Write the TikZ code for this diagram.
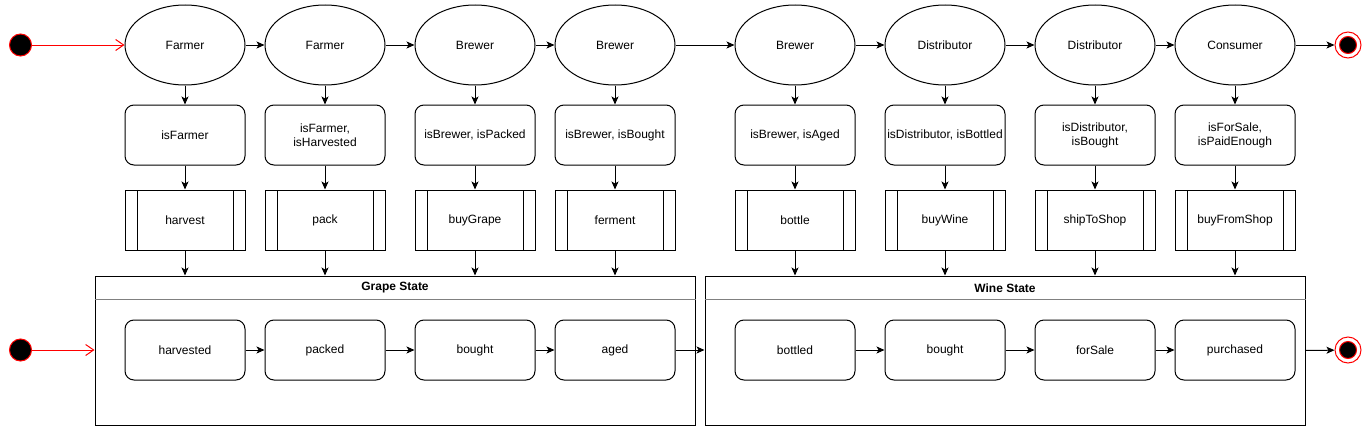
\documentclass[tikz,border=0pt]{standalone}
\usepackage{fontspec}
\setmainfont{Liberation Sans}
\usetikzlibrary{shapes.geometric,arrows.meta}

\begin{document}
\begin{tikzpicture}[x=1pt,y=-1pt,line width=1pt,
        font=\fontsize{12}{14}\selectfont,
        role/.style={ellipse,draw,minimum width=120pt,minimum height=80pt,inner sep=0pt},
        guard/.style={rectangle,draw,rounded corners=9pt,minimum width=120pt,minimum height=60pt,
            align=center,inner sep=2pt},
        stateval/.style={guard},
        proc/.style={rectangle,draw,minimum width=120pt,minimum height=60pt,
            path picture={\draw ([xshift=12pt]path picture bounding box.north west)
                -- ([xshift=12pt]path picture bounding box.south west)
                ([xshift=-12pt]path picture bounding box.north east)
                -- ([xshift=-12pt]path picture bounding box.south east);}},
        box/.style={rectangle,draw,minimum width=600pt,minimum height=149pt,inner sep=0pt},
        boxtitle/.style={font=\fontsize{12}{14}\selectfont\bfseries},
        init/.style={circle,draw=red,fill=black,minimum size=22pt,inner sep=0pt},
        final/.style={circle,draw=red,minimum size=26pt,inner sep=0pt},
        finaldot/.style={circle,draw=red,fill=black,minimum size=17pt,inner sep=0pt},
        flow/.style={-{Stealth[length=8pt,width=7pt,inset=2pt]}},
        startflow/.style={red,-{Straight Barb[length=8pt,width=11pt]}}]

        \useasboundingbox (0,0) rectangle (1371,431);

        % roles
        \node[role] (r1) at (185,45) {Farmer};
        \node[role] (r2) at (325,45) {Farmer};
        \node[role] (r3) at (475,45) {Brewer};
        \node[role] (r4) at (615,45) {Brewer};
        \node[role] (r5) at (795,45) {Brewer};
        \node[role] (r6) at (945,45) {Distributor};
        \node[role] (r7) at (1095,45) {Distributor};
        \node[role] (r8) at (1235,45) {Consumer};

        % guards
        \node[guard] (g1) at (185,135) {isFarmer};
        \node[guard] (g2) at (325,135) {isFarmer,\\ isHarvested};
        \node[guard] (g3) at (475,135) {isBrewer, isPacked};
        \node[guard] (g4) at (615,135) {isBrewer, isBought};
        \node[guard] (g5) at (795,135) {isBrewer, isAged};
        \node[guard] (g6) at (945,135) {isDistributor, isBottled};
        \node[guard] (g7) at (1095,135) {isDistributor,\\ isBought};
        \node[guard] (g8) at (1235,135) {isForSale,\\ isPaidEnough};

        % functions
        \node[proc] (p1) at (185,220) {harvest};
        \node[proc] (p2) at (325,220) {pack};
        \node[proc] (p3) at (475,220) {buyGrape};
        \node[proc] (p4) at (615,220) {ferment};
        \node[proc] (p5) at (795,220) {bottle};
        \node[proc] (p6) at (945,220) {buyWine};
        \node[proc] (p7) at (1095,220) {shipToShop};
        \node[proc] (p8) at (1235,220) {buyFromShop};

        % state boxes
        \node[box] (grape) at (395,350.5) {};
        \node[box] (wine) at (1005,350.5) {};
        \node[boxtitle] (grapetitle) at (395,288) {Grape State};
        \node[boxtitle] (winetitle) at (1005,288) {Wine State};
        \draw[gray] ([yshift=-24pt]grape.north west) -- ([yshift=-24pt]grape.north east);
        \draw[gray] ([yshift=-24pt]wine.north west) -- ([yshift=-24pt]wine.north east);

        % states
        \node[stateval] (s1) at (185,350) {harvested};
        \node[stateval] (s2) at (325,350) {packed};
        \node[stateval] (s3) at (475,350) {bought};
        \node[stateval] (s4) at (615,350) {aged};
        \node[stateval] (s5) at (795,350) {bottled};
        \node[stateval] (s6) at (945,350) {bought};
        \node[stateval] (s7) at (1095,350) {forSale};
        \node[stateval] (s8) at (1235,350) {purchased};

        % start and end
        \node[init] (start1) at (20.5,45) {};
        \node[init] (start2) at (20.5,350) {};
        \node[final] (end1) at (1348,45) {};
        \node[finaldot] (end1dot) at (end1) {};
        \node[final] (end2) at (1348,350) {};
        \node[finaldot] (end2dot) at (end2) {};

        % top row
        \draw[startflow] (start1) -- (r1);
        \draw[flow] (r1) -- (r2);
        \draw[flow] (r2) -- (r3);
        \draw[flow] (r3) -- (r4);
        \draw[flow] (r4) -- (r5);
        \draw[flow] (r5) -- (r6);
        \draw[flow] (r6) -- (r7);
        \draw[flow] (r7) -- (r8);
        \draw[flow] (r8) -- (end1);

        % down
        \draw[flow] (r1) -- (g1);  \draw[flow] (g1) -- (p1);  \draw[flow] (p1) -- (p1 |- grape.north);
        \draw[flow] (r2) -- (g2);  \draw[flow] (g2) -- (p2);  \draw[flow] (p2) -- (p2 |- grape.north);
        \draw[flow] (r3) -- (g3);  \draw[flow] (g3) -- (p3);  \draw[flow] (p3) -- (p3 |- grape.north);
        \draw[flow] (r4) -- (g4);  \draw[flow] (g4) -- (p4);  \draw[flow] (p4) -- (p4 |- grape.north);
        \draw[flow] (r5) -- (g5);  \draw[flow] (g5) -- (p5);  \draw[flow] (p5) -- (p5 |- wine.north);
        \draw[flow] (r6) -- (g6);  \draw[flow] (g6) -- (p6);  \draw[flow] (p6) -- (p6 |- wine.north);
        \draw[flow] (r7) -- (g7);  \draw[flow] (g7) -- (p7);  \draw[flow] (p7) -- (p7 |- wine.north);
        \draw[flow] (r8) -- (g8);  \draw[flow] (g8) -- (p8);  \draw[flow] (p8) -- (p8 |- wine.north);

        % bottom row
        \draw[startflow] (start2) -- (start2 -| grape.west);
        \draw[flow] (s1) -- (s2);
        \draw[flow] (s2) -- (s3);
        \draw[flow] (s3) -- (s4);
        \draw[flow] (s4) -- (s4 -| wine.west);
        \draw[flow] (s5) -- (s6);
        \draw[flow] (s6) -- (s7);
        \draw[flow] (s7) -- (s8);
        \draw[flow] (wine.east) -- (end2);
\end{tikzpicture}
\end{document}
